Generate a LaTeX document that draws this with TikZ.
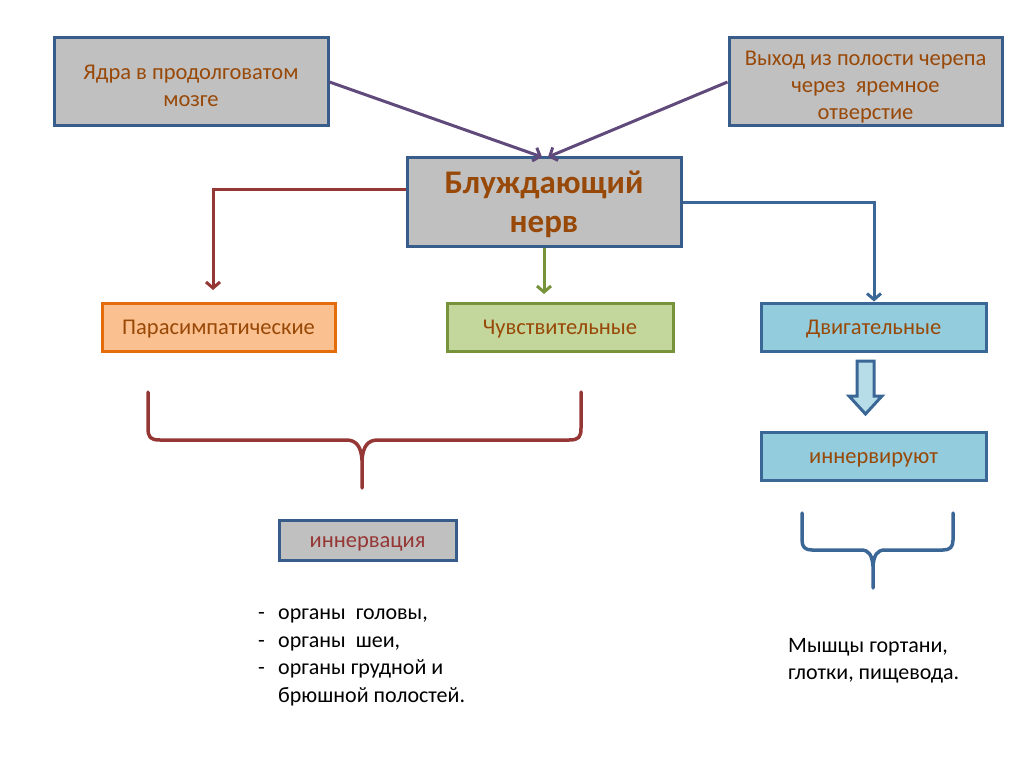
\documentclass[tikz,border=0pt]{standalone}
\usepackage{fontspec}
\setmainfont{Carlito}
\usetikzlibrary{arrows.meta}
\definecolor{boxgray}{HTML}{C0C0C0}
\definecolor{boxedge}{HTML}{385D8A}
\definecolor{brtext}{HTML}{984807}
\definecolor{purp}{HTML}{604A7B}
\definecolor{redl}{HTML}{953735}
\definecolor{grnl}{HTML}{77933C}
\definecolor{bluel}{HTML}{3B6796}
\definecolor{orfill}{HTML}{FAC090}
\definecolor{ordge}{HTML}{E46C0A}
\definecolor{grfill}{HTML}{C3D69B}
\definecolor{blfill}{HTML}{93CDDD}
\definecolor{arrfill}{HTML}{B7DDE8}
\tikzset{
  graybox/.style={draw=boxedge, fill=boxgray, line width=3pt, text=brtext, align=center, font=\fontsize{22.5}{27}\selectfont, inner sep=0pt},
  catbox/.style={line width=3pt, text=brtext, font=\fontsize{22.5}{27}\selectfont, inner sep=0pt},
  conn/.style={line width=3pt, -{Straight Barb[length=6pt,width=14pt]}},
  bracel/.style={line width=3.5pt, line cap=round, line join=round},
}
\newcommand{\tup}[1]{\rule{0pt}{#1}}
\begin{document}
\begin{tikzpicture}[x=1pt,y=-1pt]
\useasboundingbox (0,0) rectangle (1024,767);
% top boxes
\node[graybox, minimum width=274pt, minimum height=88pt] (yadra) at (191,82) {\tup{22pt}Ядра в продолговатом\\мозге};
\node[graybox, minimum width=273pt, minimum height=88pt] (vyhod) at (865.5,82) {\tup{24pt}Выход из полости черепа\\через\ \ яремное\\отверстие};
\node[graybox, minimum width=274pt, minimum height=88pt, font=\fontsize{33}{39}\selectfont\bfseries] (vagus) at (544,202) {\tup{28pt}Блуждающий\\нерв};
% category boxes
\node[catbox, draw=ordge, fill=orfill, minimum width=233pt, minimum height=48pt] (para) at (218.5,327) {\tup{19pt}Парасимпатические};
\node[catbox, draw=grnl, fill=grfill, minimum width=226pt, minimum height=48pt] (chuv) at (560,327) {\tup{19pt}Чувствительные};
\node[catbox, draw=bluel, fill=blfill, minimum width=225pt, minimum height=48pt] (dvig) at (873.5,327) {\tup{19pt}Двигательные};
\node[catbox, draw=bluel, fill=blfill, minimum width=225pt, minimum height=48pt] (inn) at (873.5,456) {\tup{19pt}иннервируют};
\node[graybox, text=redl, minimum width=177pt, minimum height=40pt] (innerv) at (367.5,540) {\tup{19pt}иннервация};
% connectors
\coordinate (tip1) at (542,157);
\coordinate (tip2) at (548,157);
\draw[conn, purp] (yadra.east) -- (tip1);
\draw[conn, purp] (vyhod.west) -- (tip2);
\coordinate (rc) at (213,190);
\draw[conn, redl] (vagus.west |- rc) -- (rc) -- (213,290);
\draw[conn, grnl] (vagus.south -| 544,0) -- (544,294);
\coordinate (bc) at (874,203);
\draw[conn, bluel] (vagus.east |- bc) -- (bc) -- (dvig.north -| bc);
% block arrow
\draw[bluel, fill=arrfill, line width=3pt, line join=miter]
  (857,361) -- (874,361) -- (874,396) -- (882,396) -- (865.5,414) -- (849,396) -- (857,396) -- cycle;
% red brace
\draw[bracel, redl] (148,392) -- (148,428) .. controls (148,437) and (150,440) .. (160,440)
  -- (346,440) .. controls (356,440) and (361,446) .. (362,460) -- (362,488);
\draw[bracel, redl] (581,392) -- (581,428) .. controls (581,437) and (579,440) .. (569,440)
  -- (378,440) .. controls (368,440) and (363,446) .. (362,460);
% blue brace
\draw[bracel, bluel] (802,513) -- (802,540) .. controls (802,547) and (805,550) .. (812,550)
  -- (861,550) .. controls (869,550) and (872,555) .. (873,566) -- (873,588);
\draw[bracel, bluel] (953,513) -- (953,540) .. controls (953,547) and (950,550) .. (943,550)
  -- (885,550) .. controls (877,550) and (874,555) .. (873,566);
% texts
\node[anchor=base west, align=left, inner sep=0pt, font=\fontsize{22}{27.5}\selectfont] (list) at (258,702)
  {\makebox[20pt][l]{-}органы\ \ головы,\\
   \makebox[20pt][l]{-}органы\ \ шеи,\\
   \makebox[20pt][l]{-}органы грудной и\\
   \makebox[20pt][l]{}брюшной полостей.};
\node[anchor=base west, align=left, inner sep=0pt, font=\fontsize{22}{27}\selectfont] (mysh) at (788,679)
  {Мышцы гортани,\\глотки, пищевода.};
\end{tikzpicture}
\end{document}
